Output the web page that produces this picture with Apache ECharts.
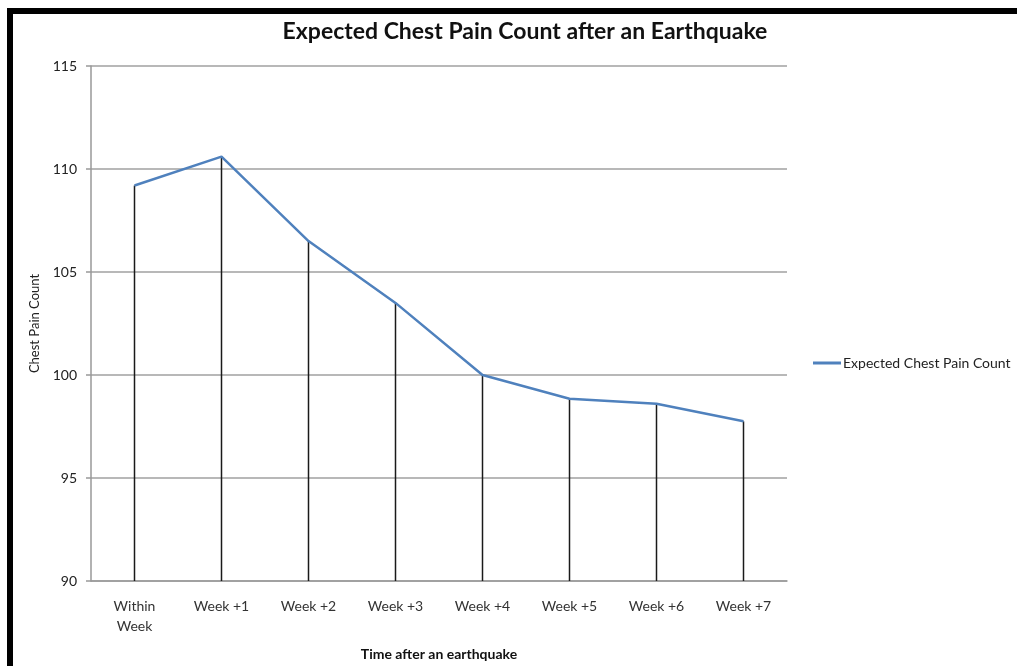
<!DOCTYPE html>
<html>
<head>
<meta charset="utf-8">
<script src="https://cdn.jsdelivr.net/npm/echarts@6/dist/echarts.min.js"></script>
<style>
  html, body { margin: 0; padding: 0; background: #fff; }
  #chart { width: 1017px; height: 666px; }
</style>
</head>
<body>
<div id="chart"></div>
<script>
const categories = ["Within\nWeek", "Week +1", "Week +2", "Week +3", "Week +4", "Week +5", "Week +6", "Week +7"]
const chestPainCount = [109.2, 110.6, 106.5, 103.5, 100.0, 98.85, 98.6, 97.75]
const yTicks = { min: 90, max: 115, interval: 5 }

const font = "Lato, 'Open Sans', sans-serif"
const chart = echarts.init(document.getElementById("chart"))

chart.setOption({
  animation: false,
  backgroundColor: "#fff",
  title: {
    text: "Expected Chest Pain Count after an Earthquake",
    left: 520,
    textAlign: "center",
    top: 15,
    textStyle: { fontFamily: font, fontSize: 23, fontWeight: "bold", color: "#111" },
  },
  legend: {
    data: [{ name: "Expected Chest Pain Count", icon: "rect" }],
    left: 808,
    top: 351,
    itemWidth: 28,
    itemHeight: 3,
    itemGap: 4,
    textStyle: { fontFamily: font, fontSize: 14, color: "#222", padding: [0, 0, 0, -3] },
  },
  grid: { left: 91, right: 230, top: 66, bottom: 83 },
  xAxis: {
    type: "category",
    data: categories,
    boundaryGap: true,
    name: "Time after an earthquake",
    nameLocation: "middle",
    nameGap: 66,
    nameTextStyle: { fontFamily: font, fontSize: 14, fontWeight: "bold", color: "#111" },
    axisLine: { lineStyle: { color: "#999", width: 1.5 } },
    axisTick: { show: false },
    axisLabel: { fontFamily: font, fontSize: 14, color: "#333", margin: 15, lineHeight: 20, interval: 0 },
  },
  yAxis: {
    type: "value",
    min: yTicks.min,
    max: yTicks.max,
    interval: yTicks.interval,
    name: "Chest Pain Count",
    nameLocation: "middle",
    nameRotate: 90,
    nameGap: 50,
    nameTextStyle: { fontFamily: font, fontSize: 13, color: "#222" },
    axisLine: { show: true, lineStyle: { color: "#999", width: 1.5 } },
    axisTick: { show: true, length: 5, lineStyle: { color: "#999", width: 1.5 } },
    axisLabel: { fontFamily: font, fontSize: 14, color: "#222", margin: 14 },
    splitLine: { lineStyle: { color: "#a0a0a0", width: 1.5 } },
  },
  series: [
    {
      type: "custom",
      name: "drop",
      data: chestPainCount,
      z: 1,
      renderItem(params, api) {
        const top = api.coord([api.value(0), api.value(1)])
        const bottom = api.coord([api.value(0), yTicks.min])
        return {
          type: "line",
          shape: { x1: top[0], y1: top[1], x2: bottom[0], y2: bottom[1] },
          style: { stroke: "#1a1a1a", lineWidth: 1.5 },
        }
      },
      encode: { x: 0, y: 1 },
    },
    {
      type: "line",
      name: "Expected Chest Pain Count",
      data: chestPainCount,
      symbol: "none",
      z: 3,
      lineStyle: { color: "#4F81BD", width: 2.5 },
      itemStyle: { color: "#4F81BD" },
    },
  ],
  graphic: [
    {
      type: "polyline",
      shape: { points: [[10, 670], [10, 11], [1020, 11]] },
      style: { stroke: "#000", lineWidth: 6, fill: null },
    },
  ],
})
</script>
</body>
</html>
